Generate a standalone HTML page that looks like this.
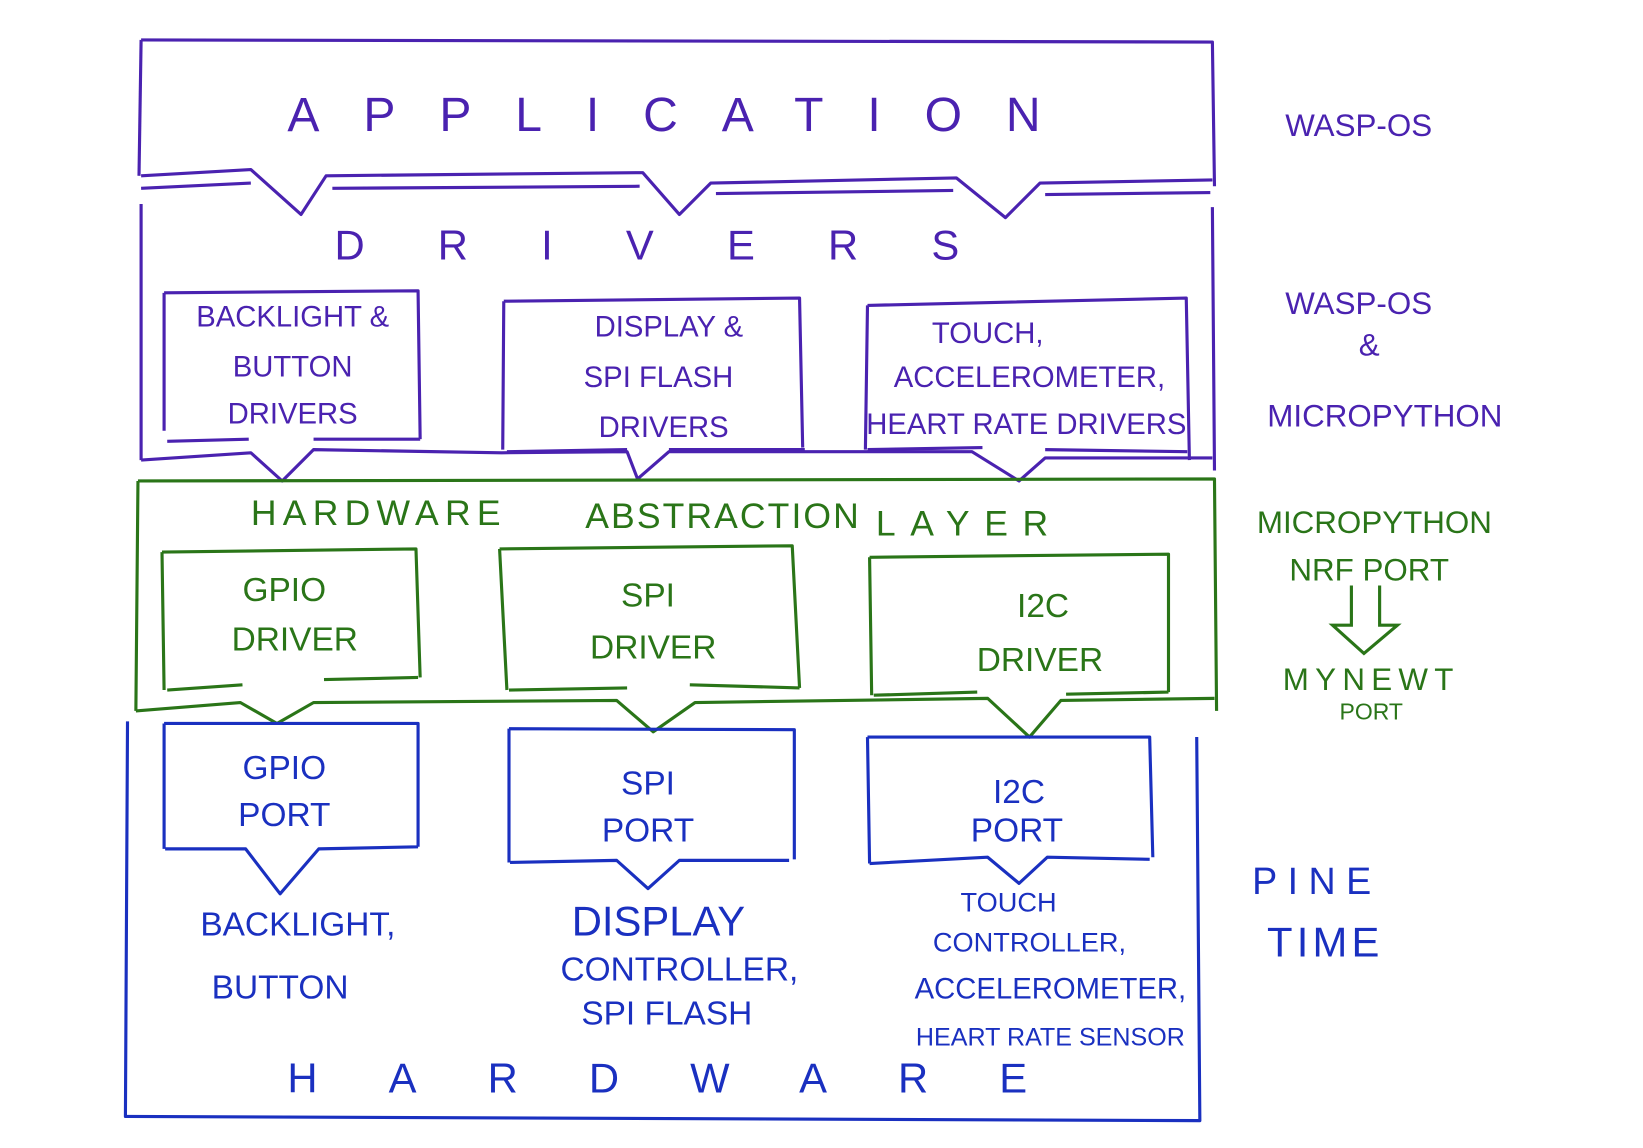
<!DOCTYPE html>
<html><head><meta charset="utf-8"><style>
html,body{margin:0;padding:0;background:#fff;}
svg{display:block}
text{font-family:"Liberation Sans",sans-serif;}
</style></head><body>
<svg width="1643" height="1148" viewBox="0 0 1572 1098" xmlns="http://www.w3.org/2000/svg">
<rect width="1572" height="1098" fill="#fff"/>
<g fill="none" stroke-width="3" stroke-linejoin="round">
<g stroke="#4a22b0">
<path d="M135,38 L1160,40 L1162,178"/>
<path d="M135,38 L133,168"/>
<path d="M135,168 L240,162 L288,205 L312,168 L615,165 L650,205 L680,175 L915,170 L962,208 L995,175 L1160,172"/>
<path d="M135,180 L240,175 M318,180 L612,178 M685,185 L912,182 M1000,186 L1158,184"/>
<path d="M135,195 L135,440 M1160,198 L1162,450"/>
<path d="M135,440 L240,433 L270,460 L300,430 L480,433 L600,432 L610,458 L640,432 L930,432 L975,460 L1000,438 L1160,438"/>
<path d="M157,280 L400,278 L402,420 M157,280 L157,412 M160,422 L238,420 M300,420 L402,420"/>
<path d="M482,288 L765,285 L768,428 M482,288 L481,430 M485,432 L600,430 M640,430 L770,430"/>
<path d="M830,292 L1135,285 L1138,440 M830,292 L828,430 M830,430 L940,428 M1000,430 L1136,432"/>
</g>
<g stroke="#2a7518">
<path d="M132,460 L1162,458 L1164,680 M132,460 L130,680"/>
<path d="M130,680 L230,672 L265,692 L300,672 L590,670 L625,700 L665,672 L945,668 L985,705 L1015,670 L1162,668"/>
<path d="M155,528 L398,525 L402,648 M155,528 L157,660 M160,660 L232,655 M310,650 L400,648"/>
<path d="M478,525 L758,522 L765,658 M478,525 L485,660 M487,660 L600,658 M660,655 L765,658"/>
<path d="M832,533 L1118,530 L1118,662 M832,533 L834,665 M836,665 L935,662 M1020,664 L1118,662"/>
</g>
<g stroke="#1a30c0">
<path d="M122,690 L120,1068 L1148,1072 L1145,705"/>
<path d="M157,692 L400,692 L400,810 M157,692 L157,812 M158,812 L235,812 L268,855 L305,812 L400,810"/>
<path d="M487,697 L760,698 L760,822 M487,697 L487,825 M488,825 L590,823 L620,850 L650,823 L755,823"/>
<path d="M830,705 L1100,705 L1103,820 M830,705 L832,826 M832,826 L945,820 L975,845 L1002,820 L1100,822"/>
</g>
</g>
<g font-size="46" fill="#4a22b0">
<text x="275" y="125" letter-spacing="42">APPLICATION</text>
</g>
<g font-size="40" fill="#4a22b0">
<text x="320" y="248" letter-spacing="70">DRIVERS</text>
</g>
<g font-size="28" fill="#4a22b0" text-anchor="middle">
<text x="280" y="312">BACKLIGHT &amp;</text>
<text x="280" y="360">BUTTON</text>
<text x="280" y="405">DRIVERS</text>
<text x="640" y="322">DISPLAY &amp;</text>
<text x="630" y="370">SPI FLASH</text>
<text x="635" y="418">DRIVERS</text>
<text x="945" y="328">TOUCH,</text>
<text x="985" y="370">ACCELEROMETER,</text>
<text x="982" y="415">HEART RATE  DRIVERS</text>
<text x="1300" y="130" font-size="30">WASP-OS</text>
<text x="1300" y="300" font-size="30">WASP-OS</text>
<text x="1310" y="340" font-size="30">&amp;</text>
<text x="1325" y="408" font-size="30">MICROPYTHON</text>
</g>
<g font-size="34" fill="#2a7518">
<text x="240" y="502" letter-spacing="6">HARDWARE</text>
<text x="560" y="505" letter-spacing="2">ABSTRACTION</text>
<text x="838" y="512" letter-spacing="14">LAYER</text>
</g>
<g font-size="32" fill="#2a7518" text-anchor="middle">
<text x="272" y="575">GPIO</text>
<text x="282" y="622">DRIVER</text>
<text x="620" y="580">SPI</text>
<text x="625" y="630">DRIVER</text>
<text x="998" y="590">I2C</text>
<text x="995" y="642">DRIVER</text>
<text x="1315" y="510" font-size="30">MICROPYTHON</text>
<text x="1310" y="555" font-size="30">NRF    PORT</text>
<text x="1312" y="660" font-size="30" letter-spacing="6">MYNEWT</text>
<text x="1312" y="688" font-size="22">PORT</text>
</g>
<g fill="none" stroke="#2a7518" stroke-width="3"><path d="M1293,560 L1293,598 L1275,598 L1305,625 L1337,598 L1320,598 L1320,560"/></g>
<g font-size="32" fill="#1a30c0" text-anchor="middle">
<text x="272" y="745">GPIO</text>
<text x="272" y="790">PORT</text>
<text x="620" y="760">SPI</text>
<text x="620" y="805">PORT</text>
<text x="975" y="768">I2C</text>
<text x="973" y="805">PORT</text>
<text x="285" y="895">BACKLIGHT,</text>
<text x="268" y="955">BUTTON</text>
<text x="630" y="895" font-size="40">DISPLAY</text>
<text x="650" y="938">CONTROLLER,</text>
<text x="638" y="980">SPI FLASH</text>
<text x="965" y="872" font-size="26">TOUCH</text>
<text x="985" y="910" font-size="26">CONTROLLER,</text>
<text x="1005" y="955" font-size="28">ACCELEROMETER,</text>
<text x="1005" y="1000" font-size="24">HEART RATE SENSOR</text>
<text x="1260" y="855" font-size="36" letter-spacing="10">PINE</text>
<text x="1268" y="915" font-size="40" letter-spacing="4">TIME</text>
</g>
<g font-size="40" fill="#1a30c0">
<text x="275" y="1045" letter-spacing="68">HARDWARE</text>
</g>
</svg>
</body></html>
